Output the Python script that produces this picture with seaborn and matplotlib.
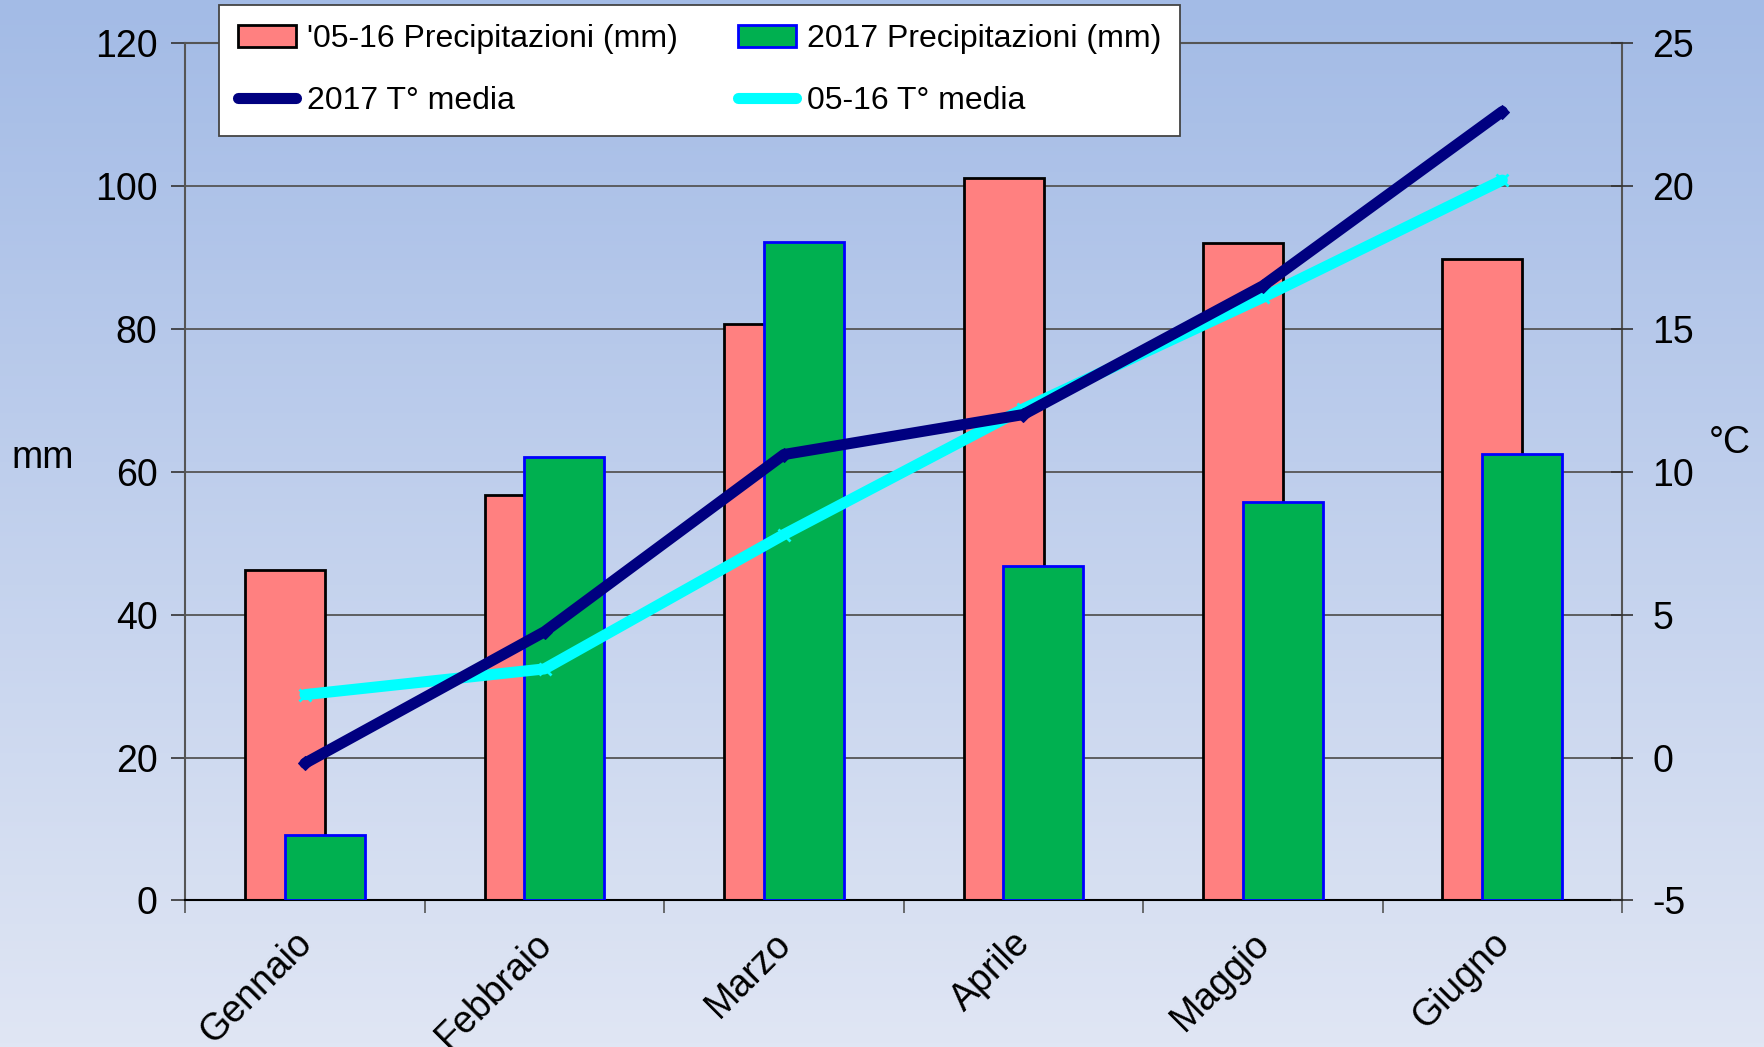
import numpy as np
import pandas as pd
import matplotlib
matplotlib.use("Agg")
import matplotlib.pyplot as plt
import matplotlib.transforms as mtransforms
import seaborn as sns
from matplotlib.patches import Patch
from matplotlib.lines import Line2D

months = ["Gennaio", "Febbraio", "Marzo", "Aprile", "Maggio", "Giugno"]
prec_0516 = [46.3, 56.7, 80.6, 101.1, 92.0, 89.8]
prec_2017 = [9.1, 62.0, 92.1, 46.8, 55.7, 62.5]
temp_2017 = [-0.2, 4.4, 10.6, 12.0, 16.5, 22.6]
temp_0516 = [2.2, 3.1, 7.8, 12.2, 16.1, 20.2]
left_ticks = [0, 20, 40, 60, 80, 100, 120]
right_ticks = [-5, 0, 5, 10, 15, 20, 25]

sns.set_theme(style="white")
plt.rcParams["font.family"] = ["Liberation Sans", "DejaVu Sans"]
for k in ["text.color", "axes.labelcolor", "xtick.color", "ytick.color"]:
    plt.rcParams[k] = "black"

FS = 27

fig = plt.figure(figsize=(17.65, 10.47), dpi=100)

# background gradient
bg = fig.add_axes([0, 0, 1, 1], zorder=-10)
top_c = np.array([163, 187, 230]) / 255
bot_c = np.array([224, 230, 244]) / 255
t = np.linspace(0, 1, 256)[:, None]
grad = top_c[None, :] * (1 - t) + bot_c[None, :] * t
bg.imshow(grad[:, None, :].repeat(2, axis=1), aspect="auto", extent=[0, 1, 0, 1])
bg.axis("off")

ax = fig.add_axes([0.105, 0.140, 0.814, 0.819])
ax.patch.set_alpha(0)

n = len(months)
pos = np.arange(n)
off = 0.083
bw = 0.334
df_a = pd.DataFrame({"x": pos - off, "v": prec_0516})
df_b = pd.DataFrame({"x": pos + off, "v": prec_2017})
sns.barplot(data=df_a, x="x", y="v", native_scale=True, width=bw, color="#FF8080",
            saturation=1, edgecolor="black", linewidth=2, ax=ax, zorder=2)
sns.barplot(data=df_b, x="x", y="v", native_scale=True, width=bw, color="#00B050",
            saturation=1, edgecolor="#0000FF", linewidth=2, ax=ax, zorder=3)

ax.set_xlim(-0.5, n - 0.5)
ax.set_ylim(0, 120)
ax.set_yticks(left_ticks)
ax.set_yticklabels([str(v) for v in left_ticks], fontsize=FS)
ax.set_xticks(pos)
ax.set_xticklabels(months, rotation=45, ha="right", va="top",
                   rotation_mode="anchor", fontsize=FS)
ax.set_xticks(np.arange(n + 1) - 0.5, minor=True)
ax.tick_params(axis="x", which="major", length=0, pad=18)
ax.tick_params(axis="x", which="minor", length=9, width=1.2, color="#555555", direction="out", bottom=True)
ax.tick_params(axis="y", length=10, width=1.2, color="#333333", direction="out", left=True, pad=10)
ax.set_xlabel("")
ax.set_ylabel("mm", fontsize=FS, rotation=0, labelpad=0)
ax.yaxis.set_label_coords(-0.0995, 0.516)
ax.yaxis.label.set_va("center")
ax.grid(axis="y", color="#555555", linewidth=1.3)
ax.grid(axis="x", visible=False)
ax.set_axisbelow(True)
for s in ["left", "right", "top"]:
    ax.spines[s].set_color("#555555")
    ax.spines[s].set_linewidth(1.5)
ax.spines["bottom"].set_color("black")
ax.spines["bottom"].set_linewidth(1.5)

ax2 = ax.twinx()
ax2.patch.set_alpha(0)
df_t = pd.DataFrame({"x": pos, "t17": temp_2017, "t0516": temp_0516})
sns.lineplot(data=df_t, x="x", y="t0516", color="#00FFFF", linewidth=8,
             marker="x", markersize=9, markeredgewidth=2, markeredgecolor="#00FFFF", ax=ax2)
sns.lineplot(data=df_t, x="x", y="t17", color="#000080", linewidth=8,
             marker="D", markersize=7, markeredgecolor="#000080", ax=ax2)
ax2.set_ylim(-5, 25)
ax2.set_yticks(right_ticks)
ax2.set_yticklabels([str(v) for v in right_ticks], fontsize=FS)
ax2.tick_params(axis="y", length=16, width=1.2, color="#333333", direction="inout", right=True, pad=14)
ax2.set_ylabel("°C", fontsize=FS, rotation=0, labelpad=0)
ax2.yaxis.set_label_coords(1.075, 0.534)
ax2.yaxis.label.set_va("center")
ax2.set_xlabel("")
ax2.grid(False)
for s in ax2.spines.values():
    s.set_visible(False)

# shift rotated month labels slightly left (after all tick_params calls)
shift = mtransforms.ScaledTranslation(-0.11, 0, fig.dpi_scale_trans)
for tk in ax.xaxis.get_major_ticks():
    tk.label1.set_transform(tk.label1.get_transform() + shift)

handles = [
    Patch(facecolor="#FF8080", edgecolor="black", linewidth=2),
    Line2D([], [], color="#000080", linewidth=8, marker="D", markersize=5),
    Patch(facecolor="#00B050", edgecolor="#0000FF", linewidth=2),
    Line2D([], [], color="#00FFFF", linewidth=8, marker="x", markersize=6),
]
labels = ["'05-16 Precipitazioni (mm)", "2017 T° media",
          "2017 Precipitazioni (mm)", "05-16 T° media"]
leg = fig.legend(handles, labels, ncol=2, loc="upper left",
                 bbox_to_anchor=(0.124, 0.995), fontsize=23, frameon=True,
                 fancybox=False, framealpha=1, facecolor="white",
                 edgecolor="#444444", borderpad=0.6, labelspacing=1.0,
                 columnspacing=1.9, handlelength=1.8, handletextpad=0.35,
                 borderaxespad=0)
leg.get_frame().set_linewidth(1.3)

fig.savefig("out.png", dpi=100)
